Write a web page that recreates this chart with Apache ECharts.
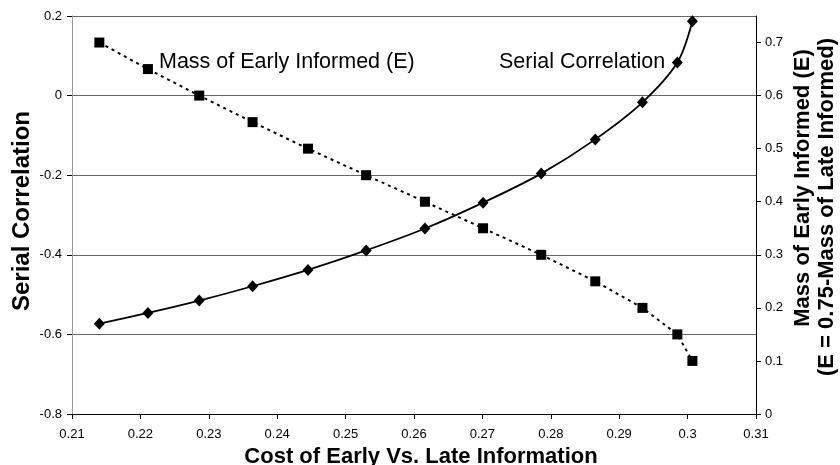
<!DOCTYPE html>
<html>
<head>
<meta charset="utf-8">
<script src="https://cdn.jsdelivr.net/npm/echarts@6/dist/echarts.min.js"></script>
<style>
html,body{margin:0;padding:0;background:#fff;}
#chart{width:840px;height:465px;}
</style>
</head>
<body>
<div id="chart"></div>
<script>
// Data
const cost = [0.2140, 0.2211, 0.2286, 0.2364, 0.2445, 0.2530, 0.2616, 0.2701, 0.2786, 0.2865, 0.2934, 0.2985, 0.3007];
const massEarly = [0.70, 0.65, 0.60, 0.55, 0.50, 0.45, 0.40, 0.35, 0.30, 0.25, 0.20, 0.15, 0.10];
const serialCorr = [-0.573, -0.546, -0.515, -0.479, -0.438, -0.389, -0.334, -0.269, -0.196, -0.110, -0.017, 0.083, 0.187];
const rightTicks = [0, 0.1, 0.2, 0.3, 0.4, 0.5, 0.6, 0.7];

const xTitle = 'Cost of Early Vs. Late Information';
const yLeftTitle = 'Serial Correlation';
const yRightTitle1 = 'Mass of Early Informed (E)';
const yRightTitle2 = '(E = 0.75-Mass of Late Informed)';
const massLabel = 'Mass of Early Informed (E)';
const corrLabel = 'Serial Correlation';

const FONT = '"Liberation Sans", Arial, sans-serif';
const chart = echarts.init(document.getElementById('chart'), null, {renderer: 'canvas'});

const option = {
  backgroundColor: '#fff',
  animation: false,
  textStyle: {fontFamily: FONT, color: '#000'},
  grid: {left: 72, right: 84, top: 16, bottom: 51, containLabel: false},
  xAxis: {
    type: 'value', min: 0.21, max: 0.31, interval: 0.01,
    axisLine: {show: true, onZero: false, lineStyle: {color: '#000', width: 1}},
    axisTick: {show: true, inside: false, length: 5, lineStyle: {color: '#000'}},
    axisLabel: {fontSize: 13, color: '#000', margin: 14, fontFamily: FONT,
      formatter: v => String(Math.round(v * 100) / 100)},
    splitLine: {show: false}
  },
  yAxis: [
    {
      type: 'value', min: -0.8, max: 0.2, interval: 0.2, position: 'left',
      axisLine: {show: true, onZero: false, lineStyle: {color: '#999', width: 1}},
      axisTick: {show: true, inside: false, length: 5, lineStyle: {color: '#000'}},
      axisLabel: {fontSize: 13, color: '#000', margin: 10, fontFamily: FONT,
        formatter: v => String(Math.round(v * 10) / 10)},
      splitLine: {show: true, lineStyle: {color: '#666', width: 1}}
    },
    {
      type: 'value', min: 0, max: 0.75, interval: 0.1, position: 'right',
      axisLine: {show: true, onZero: false, lineStyle: {color: '#000', width: 1}},
      axisTick: {show: true, inside: false, length: 5, customValues: rightTicks, lineStyle: {color: '#000'}},
      axisLabel: {fontSize: 13, color: '#000', margin: 9, fontFamily: FONT, customValues: rightTicks,
        formatter: v => String(Math.round(v * 10) / 10)},
      splitLine: {show: false}
    }
  ],
  series: [
    {
      name: massLabel, type: 'line', yAxisIndex: 1,
      data: cost.map((c, i) => [c, massEarly[i]]),
      symbol: 'rect', symbolSize: 10,
      itemStyle: {color: '#000'},
      lineStyle: {color: '#000', width: 2, type: [3, 4]},
      smooth: false, z: 3
    },
    {
      name: corrLabel, type: 'line', yAxisIndex: 0,
      data: cost.map((c, i) => [c, serialCorr[i]]),
      symbol: 'diamond', symbolSize: [11, 12],
      itemStyle: {color: '#000'},
      lineStyle: {color: '#000', width: 1.8, type: 'solid'},
      smooth: 0.3, z: 4
    }
  ],
  graphic: [
    {type: 'text', x: 22, y: 211, rotation: Math.PI / 2,
      style: {text: yLeftTitle, font: 'bold 24px ' + FONT, fill: '#000', align: 'center', verticalAlign: 'middle'}},
    {type: 'text', x: 803, y: 188, rotation: Math.PI / 2,
      style: {text: yRightTitle1, font: 'bold 22px ' + FONT, fill: '#000', align: 'center', verticalAlign: 'middle'}},
    {type: 'text', x: 827, y: 207, rotation: Math.PI / 2,
      style: {text: yRightTitle2, font: 'bold 22px ' + FONT, fill: '#000', align: 'center', verticalAlign: 'middle'}},
    {type: 'text', x: 421, y: 457,
      style: {text: xTitle, font: 'bold 22px ' + FONT, fill: '#000', align: 'center', verticalAlign: 'middle'}},
    {type: 'text', x: 159, y: 62,
      style: {text: massLabel, font: '21.5px ' + FONT, fill: '#000', align: 'left', verticalAlign: 'middle'}},
    {type: 'text', x: 499, y: 62,
      style: {text: corrLabel, font: '21.5px ' + FONT, fill: '#000', align: 'left', verticalAlign: 'middle'}}
  ]
};
chart.setOption(option);
</script>
</body>
</html>
